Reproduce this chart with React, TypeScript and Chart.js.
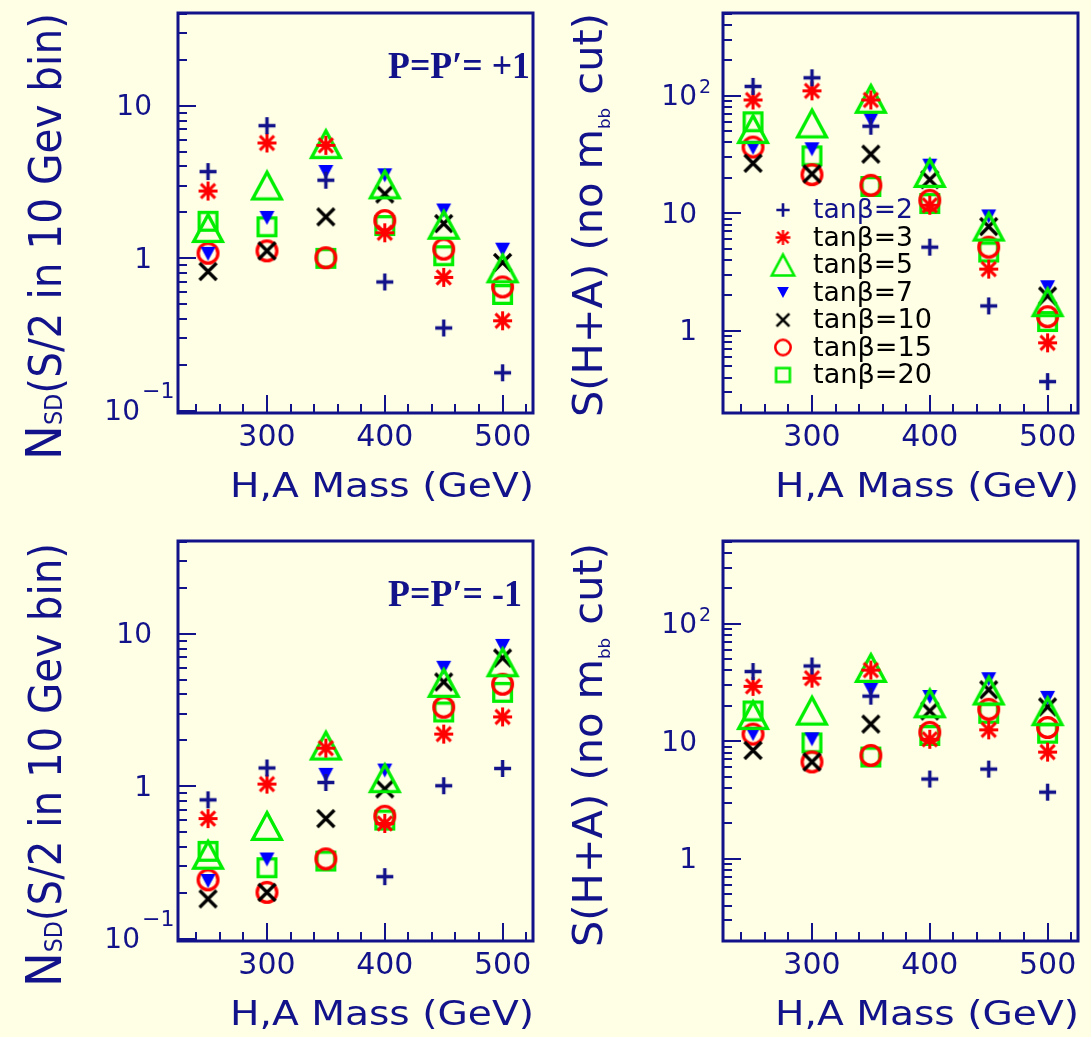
import React, { useEffect, useRef } from "react";
import { Chart, registerables } from "chart.js";

Chart.register(...registerables);

const NAVY = "#12128a";
const RED = "#ff0000";
const GREEN = "#00ee00";
const BLUE = "#0000ff";
const BLACK = "#000000";
const PAGE_BG = "#ffffe5";

// Heavy Higgs masses (GeV) at which each point is evaluated
const massPoints = [250, 300, 350, 400, 450, 500];

const tanBetaLabels = ["tanβ=2", "tanβ=3", "tanβ=5", "tanβ=7", "tanβ=10", "tanβ=15", "tanβ=20"];

// N_SD (S/2 in a 10 GeV bin), P = P' = +1 ; one row per tanβ
const nsdPlusOne = [
  [3.7, 7.4, 3.25, 0.7, 0.35, 0.178],
  [2.76, 5.7, 5.5, 1.47, 0.75, 0.39],
  [1.58, 3.0, 5.6, 3.05, 1.66, 0.86],
  [1.07, 1.84, 3.68, 3.5, 2.06, 1.14],
  [0.82, 1.12, 1.87, 2.64, 1.69, 0.94],
  [1.08, 1.12, 1.01, 1.77, 1.15, 0.65],
  [1.75, 1.61, 1.0, 1.64, 1.04, 0.58],
];

// S(H+A) without the m_bb cut, P = P' = +1
const sigPlusOne = [
  [120, 142, 55, 5.15, 1.63, 0.37],
  [92, 110, 92, 11.7, 3.35, 0.79],
  [52, 58, 94, 22, 7.7, 1.75],
  [36, 35, 62, 25.4, 9.4, 2.35],
  [26.6, 21.6, 31.8, 19.3, 7.7, 1.98],
  [36.6, 21.3, 17.3, 12.9, 5.15, 1.32],
  [60, 30.8, 16.9, 12.1, 4.68, 1.2],
];

// N_SD, P = P' = -1
const nsdMinusOne = [
  [0.816, 1.32, 1.06, 0.256, 1.01, 1.31],
  [0.615, 1.035, 1.78, 0.571, 2.2, 2.85],
  [0.356, 0.55, 1.85, 1.13, 4.76, 6.5],
  [0.24, 0.332, 1.19, 1.27, 5.98, 8.32],
  [0.183, 0.202, 0.615, 0.962, 4.83, 6.93],
  [0.244, 0.202, 0.335, 0.637, 3.3, 4.67],
  [0.375, 0.293, 0.324, 0.601, 3.07, 4.13],
];

// S(H+A) without the m_bb cut, P = P' = -1
const sigMinusOne = [
  [39.2, 43.7, 24.2, 4.77, 5.8, 3.69],
  [29.3, 34.4, 40.3, 10.4, 12.5, 8.09],
  [16.7, 18.2, 42, 21, 27, 18],
  [11.5, 10.4, 27.4, 23.8, 33.7, 23.4],
  [8.36, 6.67, 14, 18.1, 27.4, 19.6],
  [11.5, 6.67, 7.58, 11.9, 18.7, 13.1],
  [18.1, 9.68, 7.34, 11.2, 17.3, 11.7],
];

const massRange = [224.5, 525.8];
const massTickLabels = [300, 400, 500];
const massMinorStep = 20;

type TickLabel = { value: number; base: string; exp?: string };
const nsdRange = [0.097, 40.5];
const sigRange = [0.2, 505];
const nsdTickLabels: TickLabel[] = [
  { value: 0.1, base: "10", exp: "−1" },
  { value: 1, base: "1" },
  { value: 10, base: "10" },
];
const sigTickLabels: TickLabel[] = [
  { value: 1, base: "1" },
  { value: 10, base: "10" },
  { value: 100, base: "10", exp: "2" },
];

const xTitle = "H,A Mass (GeV)";
type TitlePart = { t: string; s: number; dy: number };
const nsdTitle: TitlePart[] = [
  { t: "N", s: 1.15, dy: 0 },
  { t: "SD", s: 0.55, dy: 1 },
  { t: "(S/2 in 10 Gev bin)", s: 1, dy: 0 },
];
const sigTitle: TitlePart[] = [
  { t: "S(H+A) (no m", s: 1, dy: 0 },
  { t: "bb", s: 0.4, dy: 8 },
  { t: " cut)", s: 1, dy: 0 },
];

type Kind = "plus" | "star" | "triUp" | "triDown" | "cross" | "circle" | "square";
const seriesKinds: Kind[] = ["plus", "star", "triUp", "triDown", "cross", "circle", "square"];

const CW = 546;
const CH = 528;

function makeMarker(kind: Kind, scale: number): HTMLCanvasElement {
  const dims: Record<Kind, { w: number; h: number; color: string; lw: number }> = {
    plus: { w: 17, h: 17, color: NAVY, lw: 3.4 },
    star: { w: 19, h: 19, color: RED, lw: 3 },
    triUp: { w: 32, h: 30, color: GREEN, lw: 3.3 },
    triDown: { w: 15, h: 14, color: BLUE, lw: 0 },
    cross: { w: 19, h: 19, color: BLACK, lw: 3.3 },
    circle: { w: 23, h: 23, color: RED, lw: 3.3 },
    square: { w: 21, h: 21, color: GREEN, lw: 3.3 },
  };
  const d = dims[kind];
  const w = d.w * scale;
  const h = d.h * scale;
  const lw = Math.max(2, d.lw * scale);
  const pad = 5;
  const c = document.createElement("canvas");
  c.width = Math.ceil(w + 2 * pad);
  c.height = Math.ceil(h + 2 * pad);
  const g = c.getContext("2d") as CanvasRenderingContext2D;
  const cx = c.width / 2;
  const cy = c.height / 2;
  g.strokeStyle = d.color;
  g.fillStyle = d.color;
  g.lineWidth = lw;
  g.lineCap = "butt";
  g.lineJoin = "miter";
  g.beginPath();
  switch (kind) {
    case "plus":
      g.moveTo(cx - w / 2, cy);
      g.lineTo(cx + w / 2, cy);
      g.moveTo(cx, cy - h / 2);
      g.lineTo(cx, cy + h / 2);
      g.stroke();
      break;
    case "star": {
      const a = w / 2;
      const b = a * 0.75;
      g.moveTo(cx - a, cy);
      g.lineTo(cx + a, cy);
      g.moveTo(cx, cy - a);
      g.lineTo(cx, cy + a);
      g.moveTo(cx - b, cy - b);
      g.lineTo(cx + b, cy + b);
      g.moveTo(cx - b, cy + b);
      g.lineTo(cx + b, cy - b);
      g.stroke();
      break;
    }
    case "triUp": {
      const i = lw / 2;
      g.moveTo(cx, cy - h / 2 + i);
      g.lineTo(cx + w / 2 - i, cy + h / 2 - i);
      g.lineTo(cx - w / 2 + i, cy + h / 2 - i);
      g.closePath();
      g.stroke();
      break;
    }
    case "triDown":
      g.moveTo(cx - w / 2, cy - h / 2);
      g.lineTo(cx + w / 2, cy - h / 2);
      g.lineTo(cx, cy + h / 2);
      g.closePath();
      g.fill();
      break;
    case "cross": {
      const a = w / 2 - 1;
      g.moveTo(cx - a, cy - a);
      g.lineTo(cx + a, cy + a);
      g.moveTo(cx - a, cy + a);
      g.lineTo(cx + a, cy - a);
      g.stroke();
      break;
    }
    case "circle":
      g.arc(cx, cy, w / 2 - lw / 2, 0, Math.PI * 2);
      g.stroke();
      break;
    case "square":
      g.strokeRect(cx - w / 2 + lw / 2, cy - h / 2 + lw / 2, w - lw, h - lw);
      break;
  }
  return c;
}

interface PanelSpec {
  id: string;
  left: number;
  top: number;
  padRight: number;
  values: number[][];
  yRange: number[];
  yTicks: TickLabel[];
  supRaise: number;
  supSize: number;
  title: TitlePart[];
  titleFont: number;
  titleBaseX: number;
  titleStartY: number;
  titleLen: number;
  note?: string;
  noteWidth?: number;
  legend?: boolean;
}

const panels: PanelSpec[] = [
  {
    id: "nsd-plus",
    left: 0,
    top: 0,
    padRight: 8,
    values: nsdPlusOne,
    yRange: nsdRange,
    yTicks: nsdTickLabels,
    supRaise: 21,
    supSize: 22,
    title: nsdTitle,
    titleFont: 44,
    titleBaseX: 61,
    titleStartY: 460,
    titleLen: 447,
    note: "P=P′= +1",
    noteWidth: 142,
  },
  {
    id: "sig-plus",
    left: 545,
    top: 0,
    padRight: 9,
    values: sigPlusOne,
    yRange: sigRange,
    yTicks: sigTickLabels,
    supRaise: 10,
    supSize: 19,
    title: sigTitle,
    titleFont: 40,
    titleBaseX: 57,
    titleStartY: 417,
    titleLen: 404,
    legend: true,
  },
  {
    id: "nsd-minus",
    left: 0,
    top: 528,
    padRight: 8,
    values: nsdMinusOne,
    yRange: nsdRange,
    yTicks: nsdTickLabels,
    supRaise: 21,
    supSize: 22,
    title: nsdTitle,
    titleFont: 44,
    titleBaseX: 61,
    titleStartY: 459,
    titleLen: 444,
    note: "P=P′= -1",
    noteWidth: 134,
  },
  {
    id: "sig-minus",
    left: 545,
    top: 528,
    padRight: 9,
    values: sigMinusOne,
    yRange: sigRange,
    yTicks: sigTickLabels,
    supRaise: 10,
    supSize: 19,
    title: sigTitle,
    titleFont: 40,
    titleBaseX: 57,
    titleStartY: 419,
    titleLen: 404,
  },
];

function fillFitted(ctx: CanvasRenderingContext2D, text: string, x: number, y: number, width: number) {
  const natural = ctx.measureText(text).width;
  ctx.save();
  ctx.translate(x, y);
  ctx.scale(width / natural, 1);
  ctx.textAlign = "left";
  ctx.fillText(text, 0, 0);
  ctx.restore();
}

function drawRotatedTitle(
  ctx: CanvasRenderingContext2D,
  parts: TitlePart[],
  x: number,
  y: number,
  len: number,
  size: number
) {
  const family = "'DejaVu Sans', sans-serif";
  let total = 0;
  const widths = parts.map((p) => {
    ctx.font = `${size * p.s}px ${family}`;
    const w = ctx.measureText(p.t).width;
    total += w;
    return w;
  });
  ctx.save();
  ctx.translate(x, y);
  ctx.rotate(-Math.PI / 2);
  ctx.scale(len / total, 1);
  ctx.textAlign = "left";
  ctx.textBaseline = "alphabetic";
  let cx = 0;
  parts.forEach((p, i) => {
    ctx.font = `${size * p.s}px ${family}`;
    ctx.fillText(p.t, cx, p.dy);
    cx += widths[i];
  });
  ctx.restore();
}

function decorPlugin(spec: PanelSpec, legendMarkers: HTMLCanvasElement[]) {
  return {
    id: "frameDecor",
    afterDraw(chart: any) {
      const ctx: CanvasRenderingContext2D = chart.ctx;
      const { left, right, top, bottom } = chart.chartArea;
      const xs = chart.scales.x;
      const ys = chart.scales.y;
      ctx.save();
      ctx.strokeStyle = NAVY;
      ctx.fillStyle = NAVY;

      // inward ticks on the bottom and left edges
      ctx.lineWidth = 2;
      ctx.beginPath();
      for (let v = Math.ceil(xs.min / massMinorStep) * massMinorStep; v <= xs.max; v += massMinorStep) {
        const px = Math.round(xs.getPixelForValue(v));
        const len = massTickLabels.includes(v) ? 18 : 9;
        ctx.moveTo(px, bottom);
        ctx.lineTo(px, bottom - len);
      }
      const e0 = Math.floor(Math.log10(ys.min));
      const e1 = Math.ceil(Math.log10(ys.max));
      for (let e = e0; e <= e1; e++) {
        for (let k = 1; k <= 9; k++) {
          const v = k * Math.pow(10, e);
          if (v < ys.min || v > ys.max) continue;
          const py = Math.round(ys.getPixelForValue(v));
          const len = k === 1 ? 18 : 9;
          ctx.moveTo(left, py);
          ctx.lineTo(left + len, py);
        }
      }
      ctx.stroke();

      ctx.lineWidth = 3;
      ctx.strokeRect(left, top, right - left, bottom - top);

      // x tick labels
      ctx.font = "30px 'DejaVu Sans', sans-serif";
      ctx.textAlign = "center";
      ctx.textBaseline = "middle";
      massTickLabels.forEach((v) => {
        ctx.fillText(String(v), xs.getPixelForValue(v), bottom + 25);
      });

      // y tick labels (powers of ten)
      spec.yTicks.forEach((lab) => {
        const py = ys.getPixelForValue(lab.value);
        const negative = !!lab.exp && lab.exp.startsWith("−");
        const baseRight = left - 26 - (negative ? 12 : 0);
        ctx.font = "28px 'DejaVu Sans', sans-serif";
        ctx.textAlign = "right";
        ctx.textBaseline = "middle";
        ctx.fillText(lab.base, baseRight, py + 2);
        if (lab.exp) {
          ctx.font = `${spec.supSize}px 'DejaVu Sans', sans-serif`;
          ctx.textAlign = "left";
          ctx.fillText(lab.exp, baseRight + 2, py + 2 - spec.supRaise);
        }
      });

      // axis titles
      ctx.textBaseline = "alphabetic";
      ctx.font = "34px 'DejaVu Sans', sans-serif";
      fillFitted(ctx, xTitle, 230, bottom + 84, 304);
      drawRotatedTitle(ctx, spec.title, spec.titleBaseX, spec.titleStartY, spec.titleLen, spec.titleFont);

      // polarisation label
      if (spec.note) {
        ctx.font = "bold 37px 'Liberation Serif', serif";
        fillFitted(ctx, spec.note, 388, top + 65, spec.noteWidth || 140);
      }

      // legend of tanβ values
      if (spec.legend) {
        const markerX = 238;
        const textX = 268;
        const rowTop = 210;
        const rowGap = 27.5;
        ctx.font = "27px 'DejaVu Sans', sans-serif";
        ctx.textBaseline = "middle";
        tanBetaLabels.forEach((label, i) => {
          const yy = rowTop + i * rowGap;
          const m = legendMarkers[i];
          ctx.drawImage(m, markerX - m.width / 2, yy - m.height / 2);
          ctx.fillStyle = i === 0 ? NAVY : BLACK;
          const width = label.length > 6 ? 119 : 100;
          fillFitted(ctx, label, textX, yy + 1, width);
        });
      }
      ctx.restore();
    },
  };
}

function Panel({ spec }: { spec: PanelSpec }) {
  const ref = useRef<HTMLCanvasElement>(null);
  useEffect(() => {
    const canvas = ref.current;
    if (!canvas) return;
    const markers = seriesKinds.map((k) => makeMarker(k, 1));
    const legendMarkers = seriesKinds.map((k) => makeMarker(k, 0.78));
    const datasets = spec.values.map((row, i) => ({
      label: tanBetaLabels[i],
      data: massPoints.map((m, j) => ({ x: m, y: row[j] })),
      pointStyle: markers[i] as any,
      pointRadius: 12,
      pointHoverRadius: 12,
      showLine: false,
    }));
    const chart = new Chart(canvas, {
      type: "scatter",
      data: { datasets },
      options: {
        animation: false,
        responsive: false,
        events: [],
        layout: { padding: { left: 178, top: 7, right: spec.padRight, bottom: CH - 413 } },
        plugins: { legend: { display: false }, tooltip: { enabled: false } },
        scales: {
          x: { type: "linear", min: massRange[0], max: massRange[1], display: false, bounds: "data" },
          y: { type: "logarithmic", min: spec.yRange[0], max: spec.yRange[1], display: false, bounds: "data" },
        },
      } as any,
      plugins: [decorPlugin(spec, legendMarkers)],
    });
    return () => chart.destroy();
  }, [spec]);
  return (
    <canvas
      ref={ref}
      width={CW}
      height={CH}
      style={{ position: "absolute", left: spec.left, top: spec.top, width: CW, height: CH }}
    />
  );
}

export default function App() {
  return (
    <div
      style={{
        position: "absolute",
        left: 0,
        top: 0,
        width: 1091,
        height: 1037,
        overflow: "hidden",
        background: PAGE_BG,
      }}
    >
      {panels.map((p) => (
        <Panel key={p.id} spec={p} />
      ))}
    </div>
  );
}
